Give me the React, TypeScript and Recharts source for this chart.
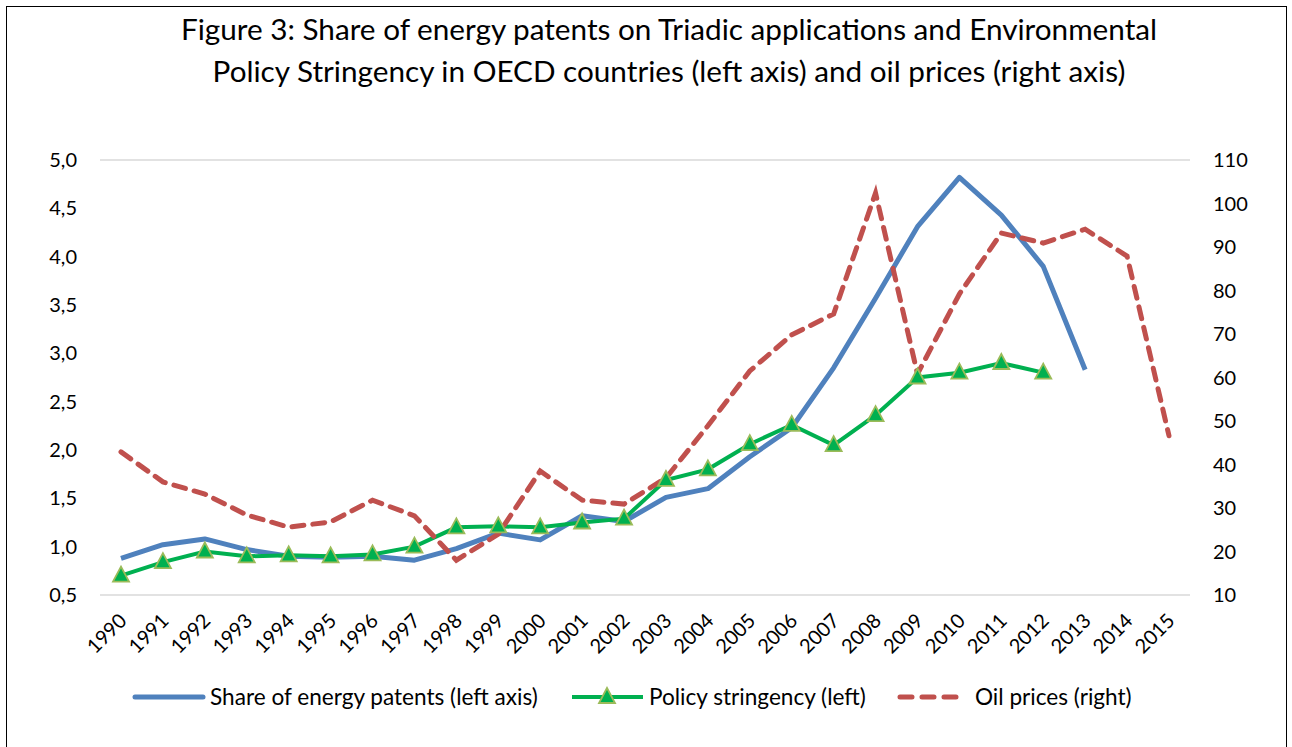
import React from 'react';
import { LineChart, Line, XAxis, YAxis, CartesianGrid, Legend } from 'recharts';

const years = ['1990','1991','1992','1993','1994','1995','1996','1997','1998','1999','2000','2001','2002','2003','2004','2005','2006','2007','2008','2009','2010','2011','2012','2013','2014','2015'];
const patents: (number | null)[] = [0.88,1.02,1.08,0.97,0.90,0.89,0.90,0.86,0.98,1.14,1.07,1.32,1.26,1.51,1.60,1.93,2.23,2.85,3.57,4.31,4.82,4.43,3.90,2.83,null,null];
const policy: (number | null)[] = [0.70,0.84,0.95,0.90,0.91,0.90,0.92,1.00,1.20,1.21,1.20,1.25,1.29,1.69,1.80,2.06,2.26,2.05,2.36,2.75,2.80,2.90,2.80,null,null,null];
const oil: number[] = [42.9,36.0,33.2,28.4,25.6,26.8,31.8,28.2,18.0,24.0,38.5,31.8,30.9,36.9,48.9,61.5,69.8,74.6,102.4,60.8,79.2,93.2,90.9,94.1,87.9,46.6];
const leftTicks = [0.5,1.0,1.5,2.0,2.5,3.0,3.5,4.0,4.5,5.0];
const rightTicks = [10,20,30,40,50,60,70,80,90,100,110];

const data = years.map((y, i) => ({ year: y, patents: patents[i], policy: policy[i], oil: oil[i] }));

const FONT = 'Lato, "Open Sans", sans-serif';
const BLUE = '#4F81BD';
const GREEN = '#00B050';
const RED = '#C0504D';

const Triangle = (props: any) => {
  const { cx, cy, index } = props;
  if (cx == null || cy == null) return <g key={index} />;
  const s = 8;
  return (
    <polygon
      key={index}
      points={`${cx},${cy - s - 1} ${cx - s},${cy + s - 2} ${cx + s},${cy + s - 2}`}
      fill={GREEN}
      stroke="#9BBB59"
      strokeWidth={1.8}
    />
  );
};

const XTick = (props: any) => {
  const { x, y, payload } = props;
  const ax = x + 7;
  const ay = y + 19;
  return (
    <text
      x={ax}
      y={ay}
      transform={`rotate(-45 ${ax} ${ay})`}
      textAnchor="end"
      fontSize={20}
      fontFamily={FONT}
      fill="#000"
    >
      {payload.value}
    </text>
  );
};

const LegendContent = () => (
  <svg width={1292} height={40} style={{ display: 'block' }}>
    <line x1={135} y1={14} x2={203} y2={14} stroke={BLUE} strokeWidth={5} strokeLinecap="round" />
    <text x={210} y={22} fontSize={22.6} fontFamily={FONT} fill="#000">Share of energy patents (left axis)</text>
    <line x1={572} y1={14} x2={643} y2={14} stroke={GREEN} strokeWidth={4} />
    <polygon points="607,5 599,20 615,20" fill={GREEN} stroke="#9BBB59" strokeWidth={1.8} />
    <text x={649} y={22} fontSize={22.6} fontFamily={FONT} fill="#000">Policy stringency (left)</text>
    <line x1={900} y1={14} x2={960} y2={14} stroke={RED} strokeWidth={5} strokeDasharray="12 10" strokeLinecap="round" />
    <text x={975} y={22} fontSize={22.6} fontFamily={FONT} fill="#000">Oil prices (right)</text>
  </svg>
);

export default function App() {
  return (
    <div style={{ position: 'relative', width: 1292, height: 747, background: '#fff', overflow: 'hidden' }}>
      <style>{`body{margin:0;}`}</style>
      <div style={{ position: 'absolute', left: 6, top: 6, width: 1281, height: 760, border: '1.5px solid #000', boxSizing: 'border-box' }} />
      <div style={{ position: 'absolute', left: 0, top: 8, width: 1338, textAlign: 'center', fontFamily: FONT, fontSize: 29.7, lineHeight: '42px', color: '#000' }}>
        Figure 3: Share of energy patents on Triadic applications and Environmental<br />
        Policy Stringency in OECD countries (left axis) and oil prices (right axis)
      </div>
      <div style={{ position: 'absolute', left: 0, top: 0 }}>
        <LineChart width={1292} height={747} data={data} margin={{ top: 160, right: 0, left: 0, bottom: 0 }}>
          <CartesianGrid vertical={false} stroke="#D9D9D9" strokeWidth={1.5} />
          <XAxis dataKey="year" tick={<XTick />} tickLine={false} axisLine={false} height={88} interval={0} padding={{ left: 21, right: 21 }} />
          <YAxis yAxisId="left" domain={[0.5, 5]} ticks={leftTicks} width={100} axisLine={false} tickLine={false}
            tickFormatter={(v: number) => v.toFixed(1).replace('.', ',')}
            tick={{ fontSize: 20, fontFamily: FONT, fill: '#000' }} tickMargin={17} />
          <YAxis yAxisId="right" orientation="right" domain={[10, 110]} ticks={rightTicks} width={102} axisLine={false} tickLine={false}
            tick={{ fontSize: 20, fontFamily: FONT, fill: '#000', textAnchor: 'start' }} tickMargin={17} />
          <Legend verticalAlign="bottom" height={64} content={<LegendContent />} />
          <Line yAxisId="left" dataKey="patents" stroke={BLUE} strokeWidth={5} strokeLinejoin="round" dot={false} isAnimationActive={false} />
          <Line yAxisId="left" dataKey="policy" stroke={GREEN} strokeWidth={4} dot={<Triangle />} isAnimationActive={false} />
          <Line yAxisId="right" dataKey="oil" stroke={RED} strokeWidth={5} strokeDasharray="12 9" strokeLinecap="round" dot={false} isAnimationActive={false} />
        </LineChart>
      </div>
    </div>
  );
}
